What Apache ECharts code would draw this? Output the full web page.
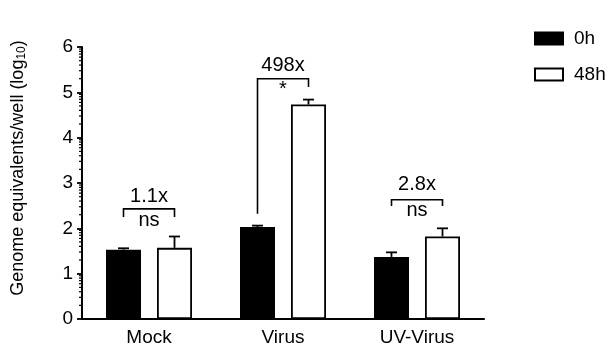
<!DOCTYPE html>
<html><head><meta charset="utf-8">
<script src="https://cdn.jsdelivr.net/npm/echarts@6/dist/echarts.min.js"></script>
<style>html,body{margin:0;padding:0;background:#fff}#chart{width:612px;height:355px}</style>
</head><body><div id="chart"></div>
<script>
// Genome equivalents per well (log10) at 0h and 48h, mean with upper SEM
const categories = ['Mock', 'Virus', 'UV-Virus'];
const seriesNames = ['0h', '48h'];
const values0h = [1.53, 2.03, 1.37];
const values48h = [1.57, 4.73, 1.82];
const err0h = [0.03, 0.03, 0.10];
const err48h = [0.25, 0.11, 0.18];
// comparison brackets between the two time points
const foldLabels = ['1.1x', '498x', '2.8x'];
const sigLabels = ['ns', '*', 'ns'];
const bracketTop = [2.43, 5.30, 2.63];
const bracketLeftEnd = [2.25, 2.32, 2.49];
const bracketRightEnd = [2.25, 5.12, 2.49];
const foldLabelY = [2.70, 5.60, 2.97];
const sigLabelY = [2.17, 5.06, 2.39];
const yMin = 0, yMax = 6, yStep = 1;

const FONT = "'Liberation Sans', Arial, Helvetica, sans-serif";
const BAR_W = 35;
const BAR_GAP = 16;
const HALF = (BAR_W + BAR_GAP) / 2;

const chart = echarts.init(document.getElementById('chart'), null, {renderer: 'canvas'});

function errorBars(values, errs, side) {
  return {
    type: 'custom',
    z: 5,
    data: values.map((v, i) => [i, v, v + errs[i]]),
    renderItem: function (params, api) {
      const c = api.value(0);
      const p0 = api.coord([c, api.value(1)]);
      const p1 = api.coord([c, api.value(2)]);
      const x = p0[0] + side * HALF;
      const cap = 5.5;
      const st = {stroke: '#000', lineWidth: 1.8};
      return {type: 'group', children: [
        {type: 'line', shape: {x1: x, y1: p0[1], x2: x, y2: p1[1]}, style: st},
        {type: 'line', shape: {x1: x - cap, y1: p1[1], x2: x + cap, y2: p1[1]}, style: st}
      ]};
    }
  };
}

const bracketSeries = {
  type: 'custom',
  z: 6,
  data: categories.map((c, i) => [i, bracketTop[i], bracketLeftEnd[i], bracketRightEnd[i], foldLabelY[i], sigLabelY[i]]),
  renderItem: function (params, api) {
    const i = params.dataIndex;
    const c = api.value(0);
    const top = api.coord([c, api.value(1)]);
    const l = api.coord([c, api.value(2)]);
    const r = api.coord([c, api.value(3)]);
    const f = api.coord([c, api.value(4)]);
    const s = api.coord([c, api.value(5)]);
    const xl = top[0] - HALF, xr = top[0] + HALF;
    return {type: 'group', children: [
      {type: 'polyline', shape: {points: [[xl, l[1]], [xl, top[1]], [xr, top[1]], [xr, r[1]]]},
        style: {stroke: '#000', lineWidth: 1.6, fill: null}},
      {type: 'text', style: {text: foldLabels[i], x: top[0], y: f[1], align: 'center', verticalAlign: 'middle',
        font: '20px ' + FONT, fill: '#000'}},
      {type: 'text', style: {text: sigLabels[i], x: top[0], y: s[1], align: 'center', verticalAlign: 'middle',
        font: '20px ' + FONT, fill: '#000'}}
    ]};
  }
};

// log10 minor ticks on the y axis (2..9 within every decade)
const minorTickSeries = {
  type: 'custom',
  z: 7,
  clip: false,
  silent: true,
  data: [[0, yMin]],
  renderItem: function (params, api) {
    const children = [];
    const x0 = params.coordSys.x;
    for (let d = yMin; d < yMax; d++) {
      for (let k = 2; k <= 9; k++) {
        const y = api.coord([0, d + Math.log10(k)])[1];
        children.push({type: 'line', shape: {x1: x0 - 3, y1: y, x2: x0, y2: y},
          style: {stroke: '#000', lineWidth: 1.2}});
      }
    }
    return {type: 'group', children: children};
  }
};

chart.setOption({
  animation: false,
  backgroundColor: '#fff',
  textStyle: {fontFamily: FONT},
  grid: {left: 82, right: 128, top: 47, bottom: 36, containLabel: false},
  legend: {
    orient: 'vertical', left: 529, top: 24, itemWidth: 28, itemHeight: 12, itemGap: 17,
    icon: 'rect', data: seriesNames,
    textStyle: {fontSize: 19, color: '#000', fontFamily: FONT, padding: [0, 0, 0, 6]}
  },
  xAxis: {
    type: 'category', data: categories,
    axisLine: {lineStyle: {color: '#000', width: 2}},
    axisTick: {alignWithLabel: true, length: 6, lineStyle: {color: '#000', width: 1.8}},
    axisLabel: {color: '#000', fontSize: 19, margin: 9, fontFamily: FONT}
  },
  yAxis: {
    type: 'value', min: yMin, max: yMax, interval: yStep,
    splitLine: {show: false},
    axisLine: {show: true, lineStyle: {color: '#000', width: 2}},
    axisTick: {show: true, length: 5, lineStyle: {color: '#000', width: 1.8}},
    axisLabel: {color: '#000', fontSize: 19, margin: 9, fontFamily: FONT}
  },
  graphic: [{
    type: 'text', rotation: Math.PI / 2,
    x: 18, y: 168,
    style: {
      text: 'Genome equivalents/well (log{sub|10})',
      rich: {sub: {fontSize: 12, verticalAlign: 'bottom', padding: [7, 0, 0, 0]}},
      font: '18px ' + FONT, fill: '#000', align: 'center', verticalAlign: 'middle'
    }
  }],
  series: [
    {name: seriesNames[0], type: 'bar', data: values0h, barWidth: BAR_W, barGap: (BAR_GAP / BAR_W * 100) + '%',
      itemStyle: {color: '#000', borderColor: '#000', borderWidth: 1.5}},
    {name: seriesNames[1], type: 'bar', data: values48h, barWidth: BAR_W,
      itemStyle: {color: '#fff', borderColor: '#000', borderWidth: 1.8}},
    errorBars(values0h, err0h, -1),
    errorBars(values48h, err48h, 1),
    bracketSeries,
    minorTickSeries
  ]
});
</script>
</body></html>
